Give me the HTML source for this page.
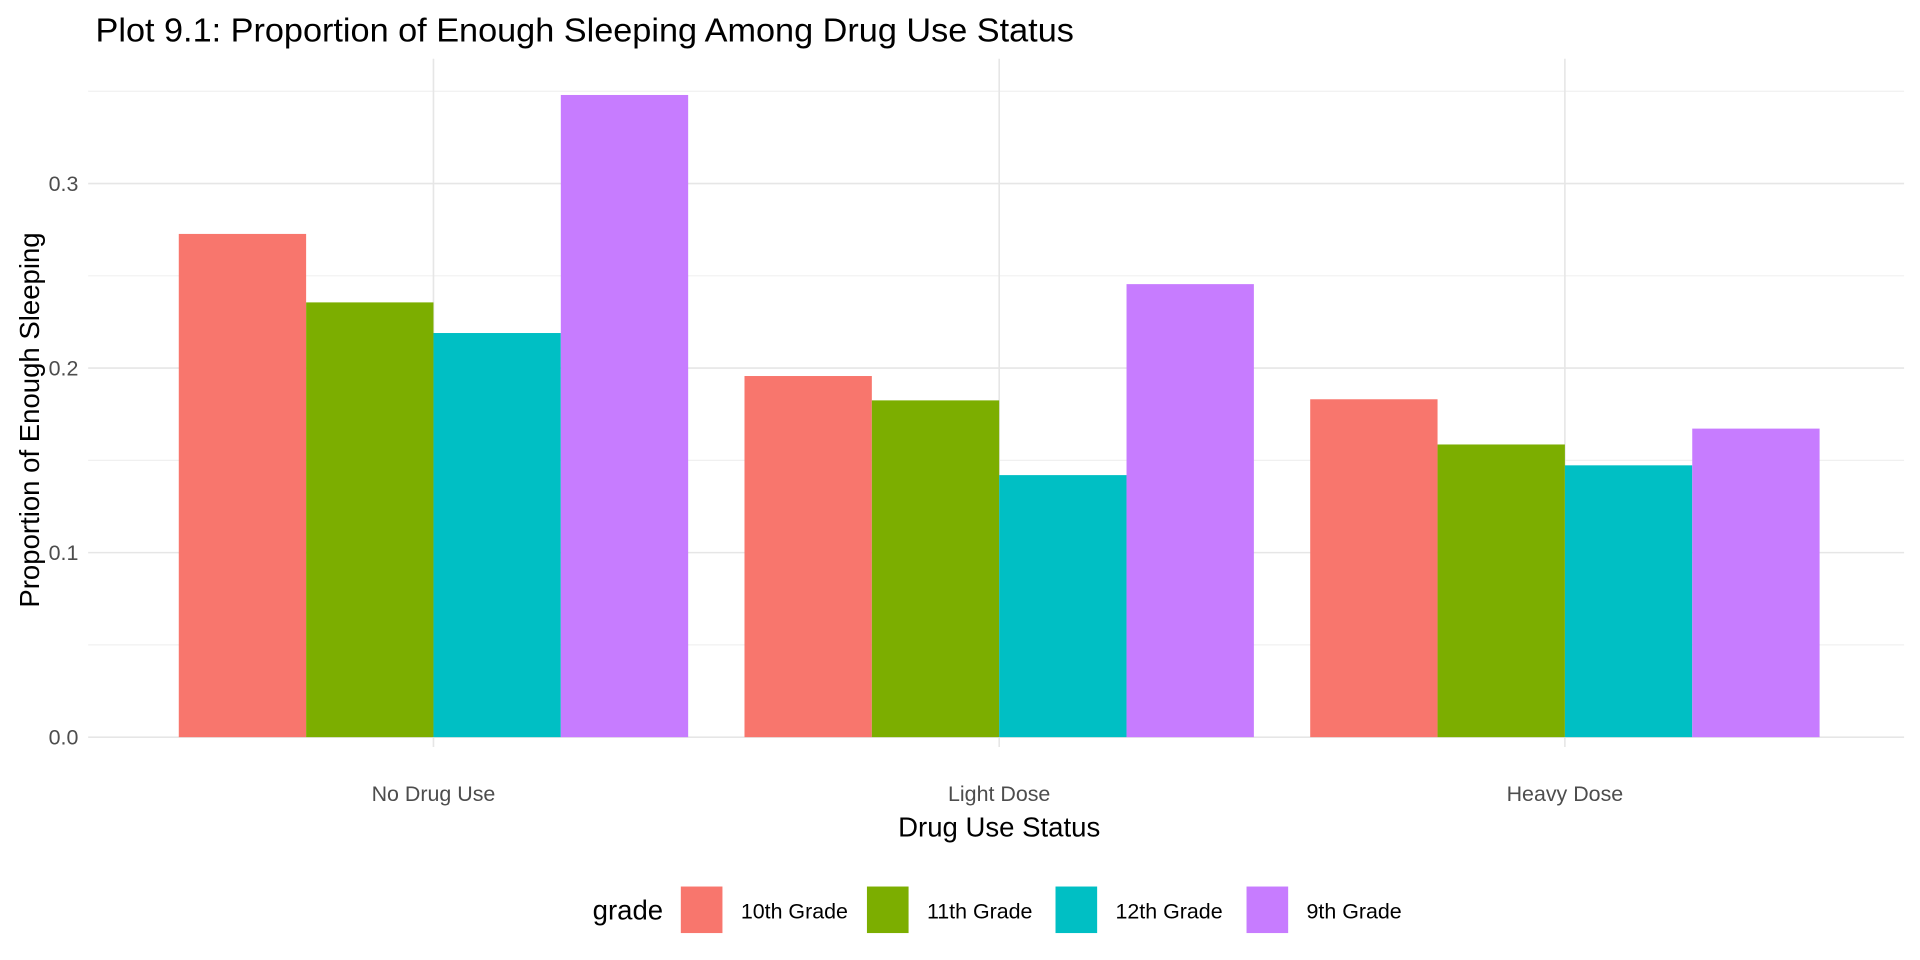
<!DOCTYPE html>
<html><head><meta charset="utf-8"><style>
html,body{margin:0;padding:0;background:#fff;}
svg{display:block;font-family:"Liberation Sans",Arial,sans-serif;}
</style></head><body>
<svg id="chart" width="1920" height="960" viewBox="0 0 1568 784" xmlns="http://www.w3.org/2000/svg">
<rect width="1568" height="784" fill="#fff"/>
<text x="78" y="34" font-size="27.5" fill="#000" textLength="799" lengthAdjust="spacingAndGlyphs">Plot 9.1: Proportion of Enough Sleeping Among Drug Use Status</text>
<g id="grid"></g>
<g id="bars"></g>
<g id="axes"></g>
<text x="816" y="683" font-size="22.5" text-anchor="middle" fill="#000">Drug Use Status</text>
<text transform="translate(32,343) rotate(-90)" font-size="22.5" text-anchor="middle" fill="#000">Proportion of Enough Sleeping</text>
<g id="legend"></g>
</svg>
<script>
const categories = ["No Drug Use","Light Dose","Heavy Dose"];
const grades = ["10th Grade","11th Grade","12th Grade","9th Grade"];
const colors = ["#F8766D","#7CAE00","#00BFC4","#C77CFF"];
const s10 = [0.2727,0.1957,0.1831];
const s11 = [0.2356,0.1825,0.1586];
const s12 = [0.2190,0.1420,0.1473];
const s9 = [0.3480,0.2455,0.1672];
const series = [s10,s11,s12,s9];
const yTicks = [0,0.1,0.2,0.3];
const yTickLabels = ["0.0","0.1","0.2","0.3"];
const yMinor = [0.05,0.15,0.25,0.35];

const NS="http://www.w3.org/2000/svg";
const panelL=72, panelR=1555, panelT=48, y0=602, pxPer=1507;
const yS=v=>y0-v*pxPer;
const groupCenter0=354, groupStep=462, groupW=416;
const xC=i=>groupCenter0+i*groupStep;
function mk(tag,attrs,parent){const e=document.createElementNS(NS,tag);for(const k in attrs)e.setAttribute(k,attrs[k]);parent.appendChild(e);return e;}
const grid=document.getElementById('grid'), bars=document.getElementById('bars'), axes=document.getElementById('axes'), legend=document.getElementById('legend');

yMinor.forEach(v=>{const l=mk('line',{x1:panelL,x2:panelR,y1:yS(v),y2:yS(v),stroke:'#f0f0f0','stroke-width':1},grid);

});
yTicks.forEach((v,i)=>{const l=mk('line',{x1:panelL,x2:panelR,y1:yS(v),y2:yS(v),stroke:'#e6e6e6','stroke-width':1.3},grid);


const t=mk('text',{x:64,y:yS(v)+6,'font-size':17.5,'text-anchor':'end',fill:'#4d4d4d'},axes);t.textContent=yTickLabels[i];

});
categories.forEach((c,i)=>{const l=mk('line',{x1:xC(i),x2:xC(i),y1:panelT,y2:610,stroke:'#e6e6e6','stroke-width':1.3},grid);


const t=mk('text',{x:xC(i),y:654,'font-size':17.5,'text-anchor':'middle',fill:'#4d4d4d'},axes);t.textContent=c;

});
const bw=groupW/grades.length;
series.forEach((s,gi)=>{s.forEach((v,ci)=>{const x=xC(ci)-groupW/2+gi*bw;
const r=mk('rect',{x:x,y:yS(v),width:bw,height:y0-yS(v),fill:colors[gi]},bars);

});});

const lt=mk('text',{x:484,y:751,'font-size':22.5,fill:'#000'},legend);lt.textContent='grade';


const lx=[556,708,862,1018];
grades.forEach((g,i)=>{const r=mk('rect',{x:lx[i],y:724,width:34,height:38,fill:colors[i]},legend);


const t=mk('text',{x:lx[i]+49,y:750,'font-size':17.5,fill:'#000'},legend);t.textContent=g;

});
</script>
</body></html>
